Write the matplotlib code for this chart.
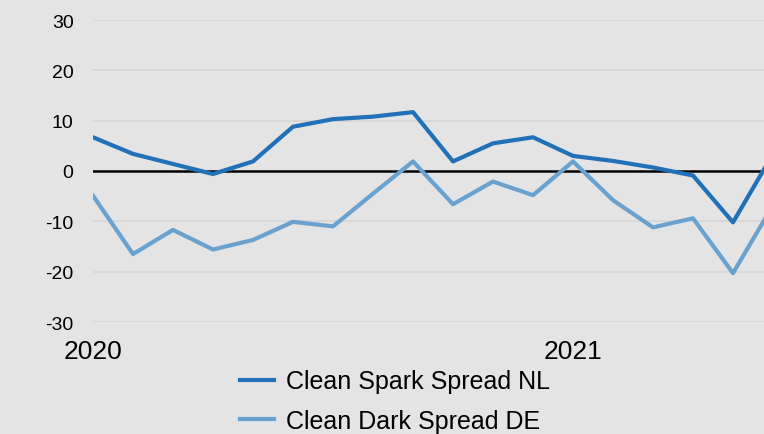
import matplotlib
matplotlib.use("Agg")
import matplotlib.pyplot as plt
import numpy as np

plt.rcParams['font.family'] = ['Liberation Sans', 'DejaVu Sans']

months = ["2020-01", "2020-02", "2020-03", "2020-04", "2020-05", "2020-06",
          "2020-07", "2020-08", "2020-09", "2020-10", "2020-11", "2020-12",
          "2021-01", "2021-02", "2021-03", "2021-04", "2021-05", "2021-06"]
spark_nl = [6.7, 3.4, 1.4, -0.6, 1.9, 8.8, 10.3, 10.8, 11.7, 1.9, 5.5, 6.7,
            3.0, 2.0, 0.7, -0.9, -10.2, 3.4]
dark_de = [-4.9, -16.5, -11.7, -15.6, -13.7, -10.1, -11.0, -4.5, 1.9, -6.6, -2.1, -4.8,
           1.9, -5.8, -11.2, -9.4, -20.3, -6.8]
year_ticks = ["2020-01", "2021-01"]
year_labels = ["2020", "2021"]
y_ticks = [-30, -20, -10, 0, 10, 20, 30]

bg = "#e4e4e4"
fig = plt.figure(figsize=(7.64, 4.35), dpi=100, facecolor=bg)
ax = fig.add_axes([93/764, (435-323)/435, 1 - 93/764, (323-21)/435])
ax.set_facecolor(bg)

x = np.arange(len(months))
ax.plot(x, spark_nl, color="#2271b8", lw=3, label="Clean Spark Spread NL", zorder=3)
ax.plot(x, dark_de, color="#6aa2cf", lw=3, label="Clean Dark Spread DE", zorder=3)

ax.set_ylim(-30, 30)
ax.set_xlim(0, (764 - 93) / 40)
ax.set_yticks(y_ticks)
ax.set_yticklabels([str(v) for v in y_ticks], fontsize=14)
ax.set_xticks([months.index(m) for m in year_ticks])
ax.set_xticklabels(year_labels, fontsize=19)
ax.tick_params(axis='both', length=0)
ax.tick_params(axis='y', pad=14)
ax.tick_params(axis='x', pad=12)
for v in y_ticks:
    if v == 0:
        ax.axhline(0, color="black", lw=1.8, zorder=2)
    else:
        ax.axhline(v, color="#d6d6d6", lw=1.2, zorder=1)
for s in ax.spines.values():
    s.set_visible(False)

leg = fig.legend(loc="center", bbox_to_anchor=(395 / 764, (435 - 402) / 435), ncol=1,
                 frameon=False, fontsize=18, handlelength=1.36, handletextpad=0.48,
                 labelspacing=0.62)
for line in leg.get_lines():
    line.set_linewidth(3)

fig.savefig("out.png", dpi=100, facecolor=bg)
